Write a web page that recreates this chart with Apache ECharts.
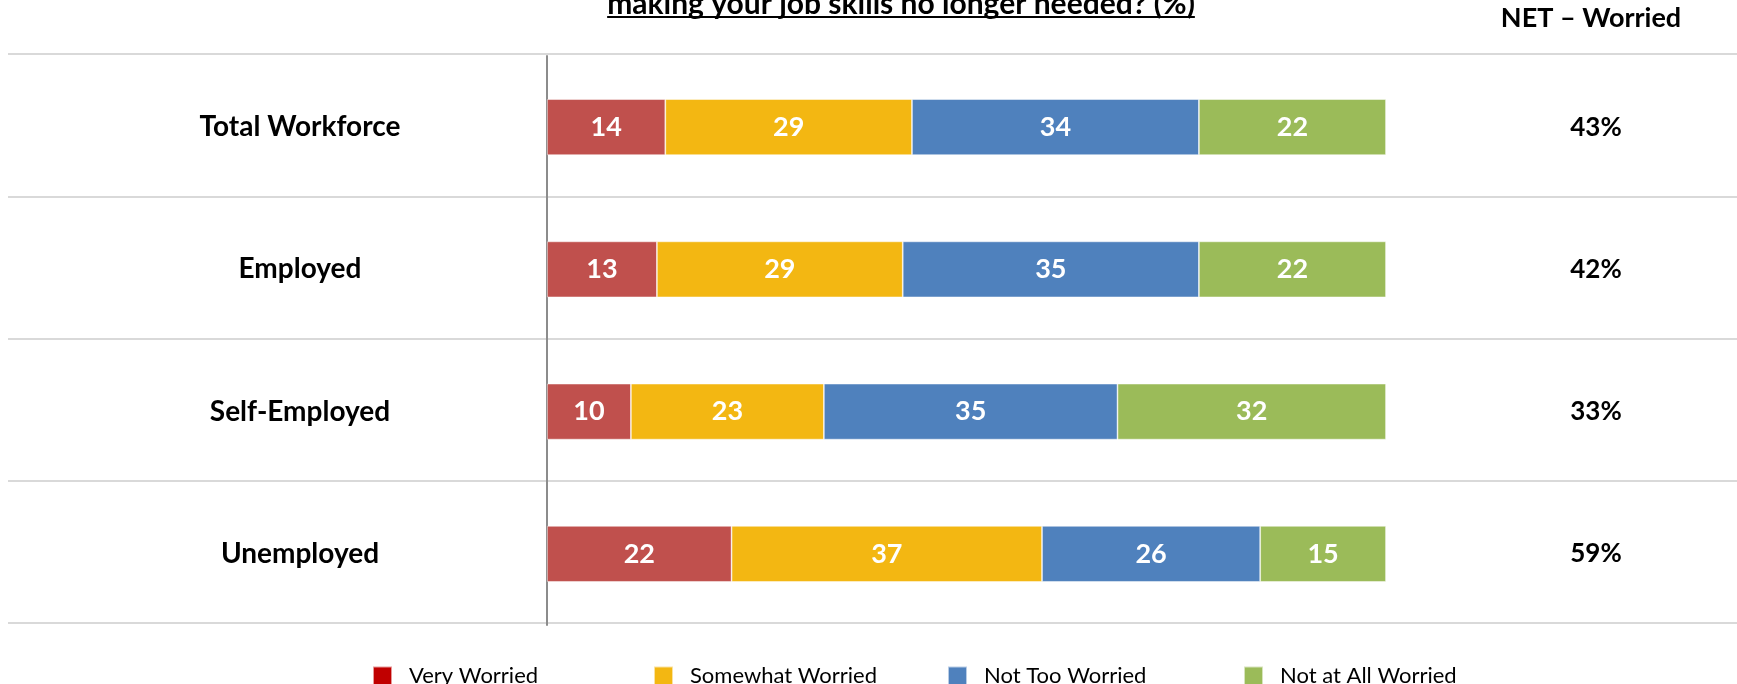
<!DOCTYPE html>
<html>
<head>
<meta charset="utf-8">
<script src="https://cdn.jsdelivr.net/npm/echarts@6/dist/echarts.min.js"></script>
<style>
  html, body { margin: 0; padding: 0; background: #fff; }
  #chart { width: 1737px; height: 684px; }
</style>
</head>
<body>
<div id="chart"></div>
<script>
// 分组
var categories = ['Total Workforce', 'Employed', 'Self-Employed', 'Unemployed'];
// 各系列数值 (%)
var veryWorried      = [14.1, 13.1, 10, 22];
var somewhatWorried  = [29.4, 29.3, 23, 37];
var notTooWorried    = [34.2, 35.3, 35, 26];
var notAtAllWorried  = [22.3, 22.3, 32, 15];
// 右侧 NET – Worried
var netWorried = [43, 42, 33, 59];

var seriesNames = ['Very Worried', 'Somewhat Worried', 'Not Too Worried', 'Not at All Worried'];
var titleText = 'making your job skills no longer needed? (%)';
var netTitle = 'NET \u2013 Worried';

var FONT = 'Lato';
var barColors = ['#C0504D', '#F3B712', '#4F81BD', '#9BBB59'];
var legendColors = ['#C00000', '#F3B712', '#4F81BD', '#9BBB59'];
var legendLeft = [372, 653, 947, 1243];

var myChart = echarts.init(document.getElementById('chart'));

// 标题下划线宽度
function textWidth(txt, font) {
  var ctx = document.createElement('canvas').getContext('2d');
  ctx.font = font;
  return ctx.measureText(txt).width;
}
var titleFont = 'bold 30px ' + FONT;
var titleW = textWidth(titleText, titleFont);
var titleCx = 901;
var netFont = 'bold 27px ' + FONT;

function makeSeries(name, values, idx) {
  return {
    name: name,
    type: 'bar',
    stack: 'all',
    xAxisIndex: 0,
    yAxisIndex: 0,
    barWidth: 56,
    data: values,
    itemStyle: { color: barColors[idx], borderColor: 'rgba(255,255,255,0.6)', borderWidth: 0.8 },
    label: {
      show: true,
      position: 'inside',
      color: '#fff',
      fontFamily: FONT,
      fontWeight: 'bold',
      fontSize: 27,
      formatter: function (p) { return Math.round(p.value); }
    },
    emphasis: { disabled: true }
  };
}

var legends = seriesNames.map(function (n, i) {
  return {
    left: legendLeft[i],
    top: 665,
    padding: 0,
    icon: 'rect',
    itemWidth: 19,
    itemHeight: 19,
    selectedMode: false,
    data: [{ name: n, itemStyle: { color: legendColors[i] } }],
    textStyle: { fontFamily: FONT, fontSize: 22, color: '#000', padding: [0, 0, 0, 12] }
  };
});

var option = {
  animation: false,
  backgroundColor: '#fff',
  legend: legends,
  grid: [
    { left: 547, right: 351, top: 56, bottom: 59 },
    { left: 8, right: 0, top: 54, bottom: 61 }
  ],
  xAxis: [
    { type: 'value', gridIndex: 0, min: 0, max: 100, show: false },
    { type: 'value', gridIndex: 1, min: 0, max: 1, show: false }
  ],
  yAxis: [
    {
      type: 'category', gridIndex: 0, data: categories, inverse: true,
      axisLine: { show: true, lineStyle: { color: '#8c8c8c', width: 2 } },
      axisTick: { show: false },
      splitLine: { show: false },
      axisLabel: { margin: 247, align: 'center', color: '#000', fontFamily: FONT, fontWeight: 'bold', fontSize: 28 }
    },
    {
      type: 'category', gridIndex: 1, data: categories, inverse: true,
      axisLine: { show: false }, axisTick: { show: false }, axisLabel: { show: false },
      splitLine: { show: true, lineStyle: { color: '#d9d9d9', width: 2 } }
    },
    {
      type: 'category', gridIndex: 0, data: categories, inverse: true, position: 'right',
      axisLine: { show: false }, axisTick: { show: false }, splitLine: { show: false },
      axisLabel: {
        margin: 210, align: 'center', color: '#000', fontFamily: FONT, fontWeight: 'bold', fontSize: 26,
        formatter: function (v, i) { return netWorried[i] + '%'; }
      }
    }
  ],
  graphic: [
    {
      type: 'text', left: titleCx - titleW / 2, top: -11,
      style: { text: titleText, font: titleFont, fill: '#000' }
    },
    {
      type: 'rect', left: titleCx - titleW / 2, top: 16,
      shape: { width: titleW, height: 2 },
      style: { fill: '#000' }
    },
    {
      type: 'text', left: 1591 - textWidth(netTitle, netFont) / 2, top: 5,
      style: { text: netTitle, font: netFont, fill: '#000' }
    }
  ],
  series: [
    makeSeries(seriesNames[0], veryWorried, 0),
    makeSeries(seriesNames[1], somewhatWorried, 1),
    makeSeries(seriesNames[2], notTooWorried, 2),
    makeSeries(seriesNames[3], notAtAllWorried, 3)
  ]
};

myChart.setOption(option);
</script>
</body>
</html>
